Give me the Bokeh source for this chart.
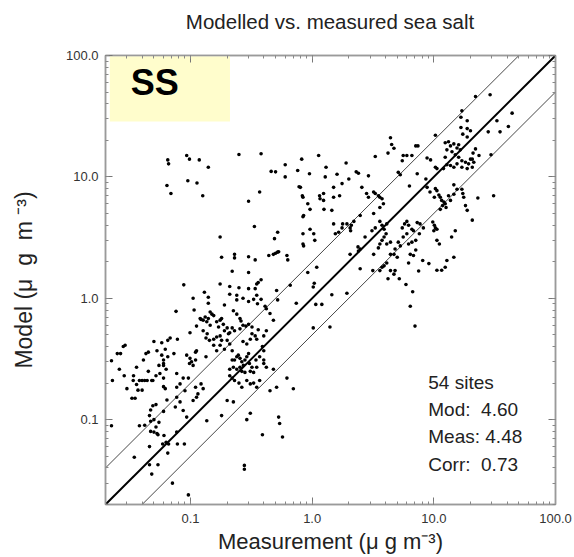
import numpy as np
from bokeh.plotting import figure
from bokeh.layouts import column
from bokeh.models import (LogAxis, LogTicker, PrintfTickFormatter, BoxAnnotation,
                          Label, ColumnDataSource, Range1d, Div)
from bokeh.embed import file_html
from bokeh.resources import INLINE

# ---------------- data ----------------
X_MIN, X_MAX = 0.02, 100.0
Y_MIN, Y_MAX = 0.02, 100.0
RATIO_LINES = [0.5, 1.0, 2.0]

TITLE = "Modelled vs. measured sea salt"
X_LABEL = "Measurement (\u03bc g m\u207b\u00b3)"
Y_LABEL = "Model (\u03bc\u00a0\u00a0g\u00a0\u00a0m\u00a0\u207b\u00b3)"
TAG = "SS"
STATS = ["54 sites", "Mod:\u00a0\u00a04.60", "Meas:\u00a04.48", "Corr:\u00a0\u00a00.73"]

# upper-left scattered sites (measurement, model)
meas_a = [0.065, 0.066, 0.064, 0.069, 0.093, 0.098, 0.095, 0.118, 0.113, 0.126, 0.14, 0.25, 0.38,
          0.30, 0.37, 0.46, 0.50, 0.60, 0.60, 0.76, 0.78, 0.175, 0.335, 0.52, 0.49]
model_a = [13.8, 12.8, 8.5, 7.3, 15, 14, 9.3, 13.8, 8.9, 7.0, 12, 15.3, 15.5,
           6.3, 7.5, 11.1, 11, 12.6, 10, 11.3, 8.3, 3.2, 3.9, 3.5, 3.1]

# low-concentration sites, left edge
meas_b = [0.0224, 0.0228, 0.025, 0.0266, 0.028, 0.029, 0.0285, 0.0224,
          0.0338, 0.034, 0.036, 0.036, 0.038, 0.040, 0.042, 0.044, 0.048,
          0.033, 0.035, 0.037, 0.040, 0.041, 0.043, 0.045, 0.049, 0.052,
          0.047, 0.049, 0.052, 0.058, 0.058, 0.060, 0.060, 0.060, 0.055,
          0.060, 0.062, 0.065, 0.046, 0.047, 0.050, 0.055, 0.038, 0.042, 0.052, 0.060, 0.064,
          0.050, 0.053, 0.045, 0.056, 0.060, 0.063, 0.065, 0.062, 0.030, 0.026]
model_b = [0.306, 0.21, 0.35, 0.35, 0.40, 0.41, 0.23, 0.089,
           0.21, 0.23, 0.27, 0.195, 0.21, 0.21, 0.21, 0.21, 0.21,
           0.15, 0.15, 0.175, 0.175, 0.31, 0.35, 0.36, 0.21, 0.23,
           0.12, 0.13, 0.133, 0.43, 0.34, 0.31, 0.29, 0.28, 0.28,
           0.187, 0.18, 0.45, 0.108, 0.097, 0.10, 0.095, 0.089, 0.09, 0.087, 0.117, 0.145,
           0.44, 0.37, 0.25, 0.24, 0.22, 0.26, 0.33, 0.38, 0.18, 0.26]

# central cluster
meas_c = [0.18, 0.23, 0.23, 0.30, 0.34, 0.44, 0.48, 0.50, 0.52, 0.53, 0.62, 0.63,
          0.22, 0.30, 0.088, 0.175, 0.21, 0.25, 0.35, 0.36, 0.38, 0.34, 0.30, 0.51, 0.66, 0.92, 1.09, 1.04, 1.02,
          0.13, 0.14, 0.105, 0.14, 0.21, 0.24, 0.24, 0.27, 0.30, 0.33, 0.35, 0.38, 0.355, 0.42, 0.52, 0.74, 1.07, 1.2, 1.45,
          0.076, 0.107, 0.145, 0.15, 0.19, 0.225, 0.24, 0.255, 0.26,
          0.12, 0.122, 0.127, 0.132, 0.136, 0.14, 0.145, 0.155, 0.164, 0.17, 0.175, 0.18, 0.186, 0.19, 0.20, 0.205,
          0.21, 0.22, 0.23, 0.255, 0.27, 0.285, 0.30, 0.32, 0.36, 0.32, 0.34, 0.35, 0.31, 0.29, 0.27,
          0.099, 0.112, 0.127, 0.137, 0.134, 0.143, 0.155, 0.164, 0.175, 0.18, 0.20, 0.21, 0.155, 0.175, 0.19,
          0.112, 0.11, 0.11, 0.093, 0.099, 0.102, 0.105, 0.098, 0.134, 0.164, 0.22,
          0.068, 0.078, 0.073, 0.077,
          0.22, 0.23, 0.24, 0.247, 0.255, 0.264, 0.272, 0.28, 0.29, 0.30, 0.305, 0.32, 0.225, 0.21, 0.24, 0.255,
          0.264, 0.28, 0.31, 0.33, 0.35, 0.345, 0.37, 0.40, 0.40, 0.42, 0.39, 0.40,
          0.21, 0.22, 0.23, 0.25, 0.264, 0.29, 0.31, 0.33, 0.35, 0.37,
          0.087, 0.096, 0.082, 0.077, 0.09, 0.11, 0.122, 0.127, 0.115, 0.112, 0.105, 0.077, 0.082, 0.075, 0.087,
          0.093, 0.136, 0.18, 0.20, 0.225, 0.29, 0.31, 0.53, 0.54, 0.62, 0.70, 0.51, 0.48, 0.45,
          1.02, 1.4, 0.41, 0.45, 0.48, 0.42, 0.40]
model_c = [2.18, 2.3, 2.15, 2.2, 2.07, 2.25, 2.3, 2.35, 2.4, 2.42, 2.25, 2.07,
           1.67, 1.63, 1.29, 1.31, 1.25, 1.22, 1.31, 1.35, 1.42, 1.2, 1.2, 1.16, 1.28, 1.63, 1.8, 1.33, 1.24,
           1.12, 1.02, 1.0, 0.91, 1.08, 1.06, 0.97, 1.0, 0.94, 0.98, 1.06, 0.98, 0.90, 0.82, 0.97, 0.91, 0.89, 0.89, 1.07,
           0.78, 0.80, 0.77, 0.74, 0.88, 0.79, 0.74, 0.68, 0.65,
           0.68, 0.67, 0.66, 0.70, 0.64, 0.68, 0.60, 0.72, 0.64, 0.58, 0.66, 0.68, 0.61, 0.54, 0.57, 0.51,
           0.52, 0.57, 0.54, 0.56, 0.60, 0.59, 0.61, 0.58, 0.55, 0.51, 0.49, 0.46, 0.46, 0.42, 0.44,
           0.52, 0.59, 0.54, 0.51, 0.47, 0.45, 0.46, 0.48, 0.49, 0.45, 0.45, 0.42, 0.41, 0.41, 0.38,
           0.37, 0.36, 0.31, 0.34, 0.32, 0.30, 0.28, 0.29, 0.33, 0.37, 0.37,
           0.47, 0.46, 0.35, 0.24,
           0.31, 0.31, 0.33, 0.34, 0.32, 0.30, 0.28, 0.31, 0.33, 0.35, 0.29, 0.27, 0.27, 0.26, 0.26, 0.27,
           0.25, 0.245, 0.25, 0.245, 0.27, 0.31, 0.33, 0.31, 0.29, 0.27, 0.40, 0.37,
           0.23, 0.22, 0.21, 0.20, 0.185, 0.21, 0.197, 0.20, 0.185, 0.21,
           0.22, 0.22, 0.197, 0.185, 0.173, 0.185, 0.197, 0.18, 0.163, 0.153, 0.144, 0.153, 0.14, 0.127, 0.119,
           0.105, 0.098, 0.108, 0.144, 0.14, 0.10, 0.113, 0.105, 0.093, 0.22, 0.18, 0.185, 0.26, 0.173,
           0.57, 0.58, 0.86, 0.75, 0.66, 0.54, 0.49]

# high-concentration sites
meas_d = [29, 22, 17, 44, 33, 28, 35, 41, 29.5, 31, 23,
          16.7, 18.8, 16.7, 18.8, 20, 17.3, 18.8,
          22, 21, 23.5, 20.7,
          12.4, 13.2, 13.7, 14.6, 15.5, 16, 16.5, 15, 12.8, 14.1, 12.4, 16, 17, 18.2, 19.3, 20, 21.3, 20.7, 18.8,
          17, 15.5, 14.6, 13.7, 12.8, 12,
          10.3, 10.3, 10.6, 9.4, 8.8, 5.6, 5.5, 6, 6.6, 7.1, 7.4, 4.4, 4.5, 4.7, 4.2, 3.3, 5.1, 5.3, 7.3, 6.3,
          8.6, 8.8, 9.3, 10.3, 10.6, 11, 10.1, 11.3, 11.6, 12.1, 11.8, 12.4, 12.6, 11.3,
          14.6, 15.5, 14.6, 17, 17.6, 17.3, 18.2, 18.8, 20.7, 13.2, 13.7,
          9.8, 10.1, 10.3, 10, 10.6, 10.6, 11.1, 14, 15, 14.6, 12.8, 12.4, 11.6, 10.6, 9.1, 8.1, 7.5, 7.1, 6.8,
          6.2, 6.4, 5.9, 6.4, 7.0, 6.7,
          0.82, 0.80, 0.83, 0.84, 0.84, 0.85, 0.84, 0.84, 0.85, 0.95, 0.92, 0.96, 1.03, 1.05, 0.96, 1.13, 1.15,
          1.16, 1.24, 1.24, 1.28, 1.25, 1.45, 1.5, 1.5, 1.68, 1.76,
          1.5, 1.55, 1.65, 1.76, 1.78, 1.93, 2.05, 2.1, 2.2, 2.07, 2.48, 2.56, 2.4, 2.9, 2.8, 2.9, 3.2, 3.3, 3.5,
          3.6, 3.75, 3.85, 3.6, 3.2, 3.3, 3.1, 3.6, 3.75, 3.9, 4.1, 4.05, 3.9, 3.75, 3.6, 3.5,
          2.05, 2.4, 2.48, 2.38, 2.72, 3.2, 3.15, 3.6, 3.75, 3.9, 4.1, 4.2, 4.4, 4.7, 4.8, 5.2, 5.0, 5.3, 5.5,
          5.75, 6.0, 6.2, 6.6, 6.8, 7.3, 7.7, 8.2, 6.2, 6.6, 7.1, 7.6, 5.1, 4.8, 4.7, 4.4, 5.6, 6.0, 4.4, 4.1,
          2.48, 1.93, 1.6, 2.0, 2.3, 1.3, 1.9]
model_d = [47.5, 46, 35, 33.5, 29, 23.5, 23.5, 26, 15.2, 7.0, 6.7,
           31, 29, 25.5, 25, 24, 22.5, 21.3,
           17, 15.7, 15, 14,
           19.1, 19.5, 18, 18.7, 17.3, 18.4, 16.7, 15.2, 16.7, 16.1, 14.5, 14.5, 13.6, 13.2, 12.8, 14, 13.2, 12, 11.7,
           12, 12.8, 12, 12.4, 12.6, 11.7,
           22, 12, 11.7, 13.8, 14.3, 15, 13.6, 15, 15, 18, 18, 21, 18.5, 17.2, 15.7, 14.7, 10.9, 10.4, 10.6, 8.4,
           9.6, 8.2, 7.5, 8.0, 7.7, 7.1, 6.8, 6.8, 6.4, 6.2, 5.8, 6.0, 5.6, 5.4,
           8.6, 7.9, 7.2, 7.9, 6.8, 7.3, 5.8, 5.3, 4.4, 7.0, 6.4,
           4.25, 4.0, 3.8, 3.6, 3.7, 3.0, 2.8, 3.2, 3.6, 2.18, 2.05, 1.8, 1.7, 1.7, 1.93, 2.05, 1.68, 2.5, 2.25,
           1.95, 2.3, 1.3, 0.86, 0.59, 1.13,
           14, 8.2, 7.0, 6.8, 4.7, 4.8, 3.4, 2.8, 2.7, 10.6, 6.0, 5.4, 3.4, 3.0, 3.7, 15, 7.0,
           6.6, 7.3, 6.4, 10, 5.4, 5.3, 6.8, 8.2, 7.0, 8.8,
           4.1, 3.4, 3.5, 3.8, 4.1, 4.1, 3.8, 4.0, 4.3, 3.6, 4.8, 8.2, 10.7, 10.2, 7.3, 6.8, 7.5, 7.3, 7.0,
           6.8, 6.6, 6.0, 5.6, 5.0, 3.8, 3.6, 4.3, 4.0, 3.7, 4.1, 3.4, 3.2, 3.0, 2.8, 2.6,
           2.3, 2.45, 2.55, 2.65, 3.2, 2.3, 1.69, 1.69, 1.8, 1.85, 1.95, 1.45, 1.69, 1.58, 1.69, 1.45, 2.18, 2.7, 3.8,
           4.1, 4.3, 4.0, 3.7, 3.6, 4.2, 4.1, 3.8, 2.8, 2.9, 3.0, 3.4, 2.9, 2.55, 2.3, 2.3, 3.2, 3.4, 2.9, 2.8,
           1.75, 1.1, 10.5, 9.6, 11, 12, 13]

# sites below the 1:2 line at the bottom
meas_e = [0.047, 0.050, 0.053, 0.054, 0.0605, 0.063, 0.066, 0.059, 0.077, 0.078, 0.089, 0.046, 0.0345,
          0.065, 0.046, 0.054, 0.048, 0.071, 0.096, 0.57, 0.39, 0.277, 0.277]
model_e = [0.080, 0.079, 0.077, 0.075, 0.074, 0.065, 0.063, 0.063, 0.079, 0.063, 0.063, 0.060, 0.049,
           0.053, 0.0425, 0.0425, 0.0356, 0.030, 0.024, 0.072, 0.075, 0.042, 0.039]

meas = meas_a + meas_b + meas_c + meas_d + meas_e
model = model_a + model_b + model_c + model_d + model_e

# ---------------- figure ----------------
FONT = "Liberation Sans"
W, H = 574, 557
TITLE_H = 44

title_div = Div(text=TITLE, width=W, height=TITLE_H, margin=0,
                styles={"font-family": FONT, "font-size": "20.5px", "color": "#222222",
                        "text-align": "center", "line-height": "%dpx" % TITLE_H,
                        "padding-left": "86px", "box-sizing": "border-box",
                        "width": "%dpx" % W, "background": "white"})

p = figure(width=W, height=H - TITLE_H, x_axis_type="log", y_axis_type="log",
           x_range=Range1d(X_MIN, X_MAX), y_range=Range1d(Y_MIN, Y_MAX),
           toolbar_location=None, output_backend="svg",
           min_border_left=105, min_border_right=19, min_border_top=55 - TITLE_H,
           min_border_bottom=53, margin=0,
           background_fill_color="white", border_fill_color="white")
p.grid.visible = False
p.outline_line_color = "#9a9a9a"
p.outline_line_width = 1.5

# yellow tag box (in data coords of the frame corner)
p.add_layout(BoxAnnotation(left=0.0217, right=0.211, bottom=28.6, top=98.5,
                           fill_color="#fffdcc", fill_alpha=1.0, line_color=None, level="underlay"))
p.add_layout(Label(x=0.0323, y=40.3, text=TAG, text_font=FONT, text_font_size="36px",
                   text_font_style="bold", text_color="black"))

# ratio lines
xs = [X_MIN, X_MAX]
for r in RATIO_LINES:
    ys = [r * v for v in xs]
    if r == 1.0:
        p.line(xs, ys, line_color="black", line_width=2.0)
    else:
        p.line(xs, ys, line_color="#333333", line_width=0.9)

src = ColumnDataSource(dict(x=meas, y=model))
p.scatter("x", "y", source=src, size=3.6, marker="circle", fill_color="black", line_color=None)

# stats text
stat_y = [0.2017, 0.121, 0.0724, 0.0426]
for t, yy in zip(STATS, stat_y):
    p.add_layout(Label(x=9.0, y=yy, text=t, text_font=FONT, text_font_size="19px",
                       text_baseline="middle", text_color="#222222"))


def style_axis(ax, labels=True):
    ax.ticker = LogTicker(mantissas=[1], num_minor_ticks=10)
    ax.axis_line_color = "#9a9a9a"
    ax.axis_line_width = 1.5
    ax.major_tick_line_color = "#777777"
    ax.minor_tick_line_color = "#888888"
    ax.major_tick_in = 7
    ax.major_tick_out = 0
    ax.minor_tick_in = 3
    ax.minor_tick_out = 0
    ax.formatter = PrintfTickFormatter(format="%.1f")
    if labels:
        ax.major_label_text_font = FONT
        ax.major_label_text_font_size = "13px"
        ax.major_label_text_color = "#333333"
        ax.axis_label_text_font = FONT
        ax.axis_label_text_font_style = "normal"
        ax.axis_label_text_color = "#222222"
    else:
        ax.major_label_text_font_size = "2px"
        ax.major_label_text_color = None
        ax.major_label_standoff = 0

style_axis(p.xaxis[0])
style_axis(p.yaxis[0])
p.xaxis[0].axis_label = X_LABEL
p.xaxis[0].axis_label_text_font_size = "22px"
p.xaxis[0].major_label_standoff = 9
p.xaxis[0].axis_label_standoff = 3
p.yaxis[0].axis_label = Y_LABEL
p.yaxis[0].axis_label_text_font_size = "23px"
p.yaxis[0].major_label_standoff = 7
p.yaxis[0].axis_label_standoff = 26

ax_r = LogAxis()
style_axis(ax_r, labels=False)
p.add_layout(ax_r, "right")
ax_t = LogAxis()
style_axis(ax_t, labels=False)
p.add_layout(ax_t, "above")

layout = column(title_div, p, spacing=0, margin=0)

open("out.html", "w").write(file_html(layout, INLINE))
